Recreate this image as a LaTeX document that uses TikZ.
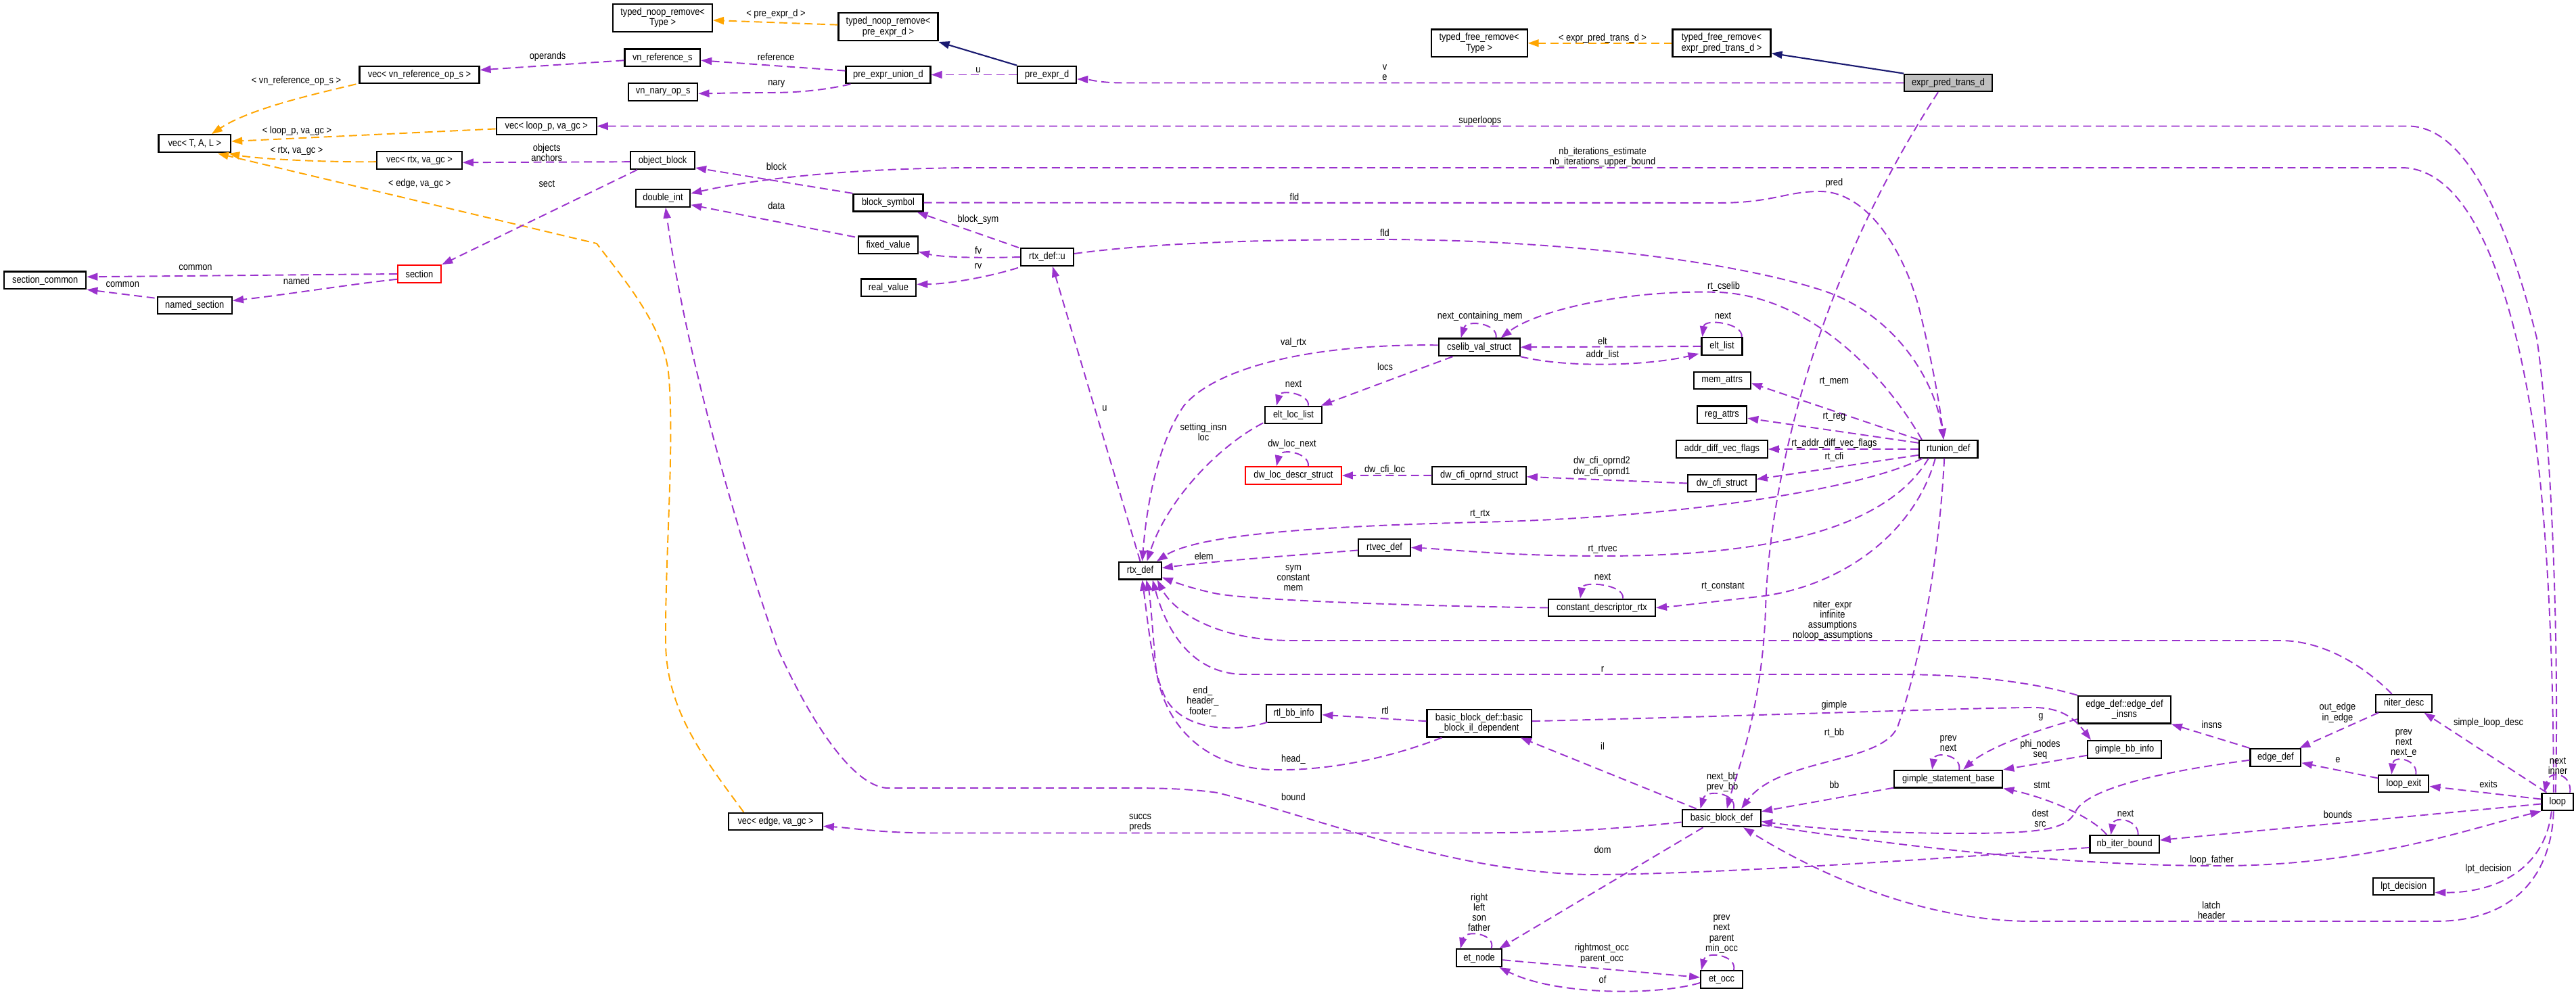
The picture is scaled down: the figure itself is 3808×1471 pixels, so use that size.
\documentclass[tikz,border=0pt]{standalone}
\usepackage{fontspec}
\newfontfamily\dxfont[FakeStretch=0.87]{Liberation Sans}
\usetikzlibrary{arrows.meta,calc}
\definecolor{purp}{HTML}{9A32CD}
\definecolor{orng}{HTML}{FFA500}
\definecolor{mblue}{HTML}{191970}
\definecolor{gfill}{HTML}{BFBFBF}
\tikzset{
 box/.style={draw=black, fill=white, line width=0.6pt, inner sep=0pt, minimum height=0.256cm, align=center, font=\dxfont\fontsize{4.2}{4.4}\selectfont},
 bw/.style={minimum width=#1*0.01cm},
 tall/.style={minimum height=0.406cm},
 lbl/.style={inner sep=0pt, align=center, font=\dxfont\fontsize{4.2}{4.3}\selectfont},
 usesty/.style={draw=purp, line width=0.55pt, dash pattern=on 3.4pt off 1.9pt, -{Triangle[length=0.16cm,width=0.11cm]}},
 tmplsty/.style={usesty, draw=orng},
 inhsty/.style={draw=mblue, line width=0.6pt, -{Triangle[length=0.16cm,width=0.11cm]}},
}
\begin{document}
\begin{tikzpicture}[x=0.01cm,y=-0.01cm]
\useasboundingbox (0,0) rectangle (3808,1471);
% nodes
\node[box,bw=146.6,tall] (tnrT) at (979.6,26.3) {typed\_noop\_remove<\\Type >};
\node[box,bw=147,tall] (tnrP) at (1313,39.7) {typed\_noop\_remove<\\pre\_expr\_d >};
\node[box,bw=142,tall] (tfrT) at (2186.6,63.8) {typed\_free\_remove<\\Type >};
\node[box,bw=145,tall] (tfrE) at (2545,63.8) {typed\_free\_remove<\\expr\_pred\_trans\_d >};
\node[box,bw=129.5,fill=gfill] (ept) at (2880,122.5) {expr\_pred\_trans\_d};
\node[box,bw=177] (vecvn) at (620,110.5) {vec< vn\_reference\_op\_s >};
\node[box,bw=111.6] (vnref) at (979.3,85.3) {vn\_reference\_s};
\node[box,bw=102.4] (vnnary) at (980.2,135.8) {vn\_nary\_op\_s};
\node[box,bw=125] (peu) at (1313,110.5) {pre\_expr\_union\_d};
\node[box,bw=87] (ped) at (1547.7,110.5) {pre\_expr\_d};
\node[box,bw=106.6] (vecTAL) at (287.8,212) {vec< T, A, L >};
\node[box,bw=148] (vecloop) at (807.7,186.5) {vec< loop\_p, va\_gc >};
\node[box,bw=125.5] (vecrtx) at (620,237.2) {vec< rtx, va\_gc >};
\node[box,bw=95] (objblk) at (979.5,237.2) {object\_block};
\node[box,bw=80.4] (dblint) at (980,293) {double\_int};
\node[box,bw=103] (blksym) at (1313,299.7) {block\_symbol};
\node[box,bw=121.3] (secc) at (66.7,414.3) {section\_common};
\node[box,bw=64.3,draw=red] (sect) at (620,405) {section};
\node[box,bw=110.3] (nsect) at (287.8,451.5) {named\_section};
\node[box,bw=88] (fixv) at (1313,362.3) {fixed\_value};
\node[box,bw=78] (rtxu) at (1548,380) {rtx\_def::u};
\node[box,bw=81.5] (realv) at (1313.5,425.3) {real\_value};
\node[box,bw=120] (csv) at (2186.6,513.3) {cselib\_val\_struct};
\node[box,bw=60] (eltl) at (2545.5,512) {elt\_list};
\node[box,bw=83.5] (ell) at (1912,613.5) {elt\_loc\_list};
\node[box,bw=84] (mema) at (2545.7,562.5) {mem\_attrs};
\node[box,bw=73.5] (rega) at (2545.5,613.3) {reg\_attrs};
\node[box,bw=134.7] (adv) at (2545.5,664) {addr\_diff\_vec\_flags};
\node[box,bw=86.5] (rtu) at (2880.2,663.8) {rtunion\_def};
\node[box,bw=141.7,draw=red] (dwl) at (1912,703) {dw\_loc\_descr\_struct};
\node[box,bw=138.4] (dwo) at (2186.6,702.8) {dw\_cfi\_oprnd\_struct};
\node[box,bw=100.4] (dwc) at (2545.4,714.5) {dw\_cfi\_struct};
\node[box,bw=62.5] (rtx) at (1685.5,843.7) {rtx\_def};
\node[box,bw=76.5] (rtvec) at (2046.6,809.5) {rtvec\_def};
\node[box,bw=158] (cdr) at (2368,898.5) {constant\_descriptor\_rtx};
\node[box,bw=83.3] (nd) at (3553.7,1039.8) {niter\_desc};
\node[box,bw=136.8,tall] (edi) at (3140.4,1049.2) {edge\_def::edge\_def\\\_insns};
\node[box,bw=81.7] (rtlbb) at (1912.5,1054.8) {rtl\_bb\_info};
\node[box,bw=154.3,tall] (bbil) at (2186.6,1069.2) {basic\_block\_def::basic\\\_block\_il\_dependent};
\node[box,bw=109.4] (gbb) at (3140.7,1107.8) {gimple\_bb\_info};
\node[box,bw=74.7] (edef) at (3363.8,1119.8) {edge\_def};
\node[box,bw=160] (gsb) at (2880.2,1151.7) {gimple\_statement\_base};
\node[box,bw=74] (lexit) at (3553.4,1158.5) {loop\_exit};
\node[box,bw=46.6] (loop) at (3780.8,1185.5) {loop};
\node[box,bw=138.4] (vecedge) at (1146.6,1214.5) {vec< edge, va\_gc >};
\node[box,bw=116.4] (bbd) at (2544.8,1209.5) {basic\_block\_def};
\node[box,bw=102.3] (nib) at (3140.6,1248) {nb\_iter\_bound};
\node[box,bw=90.3] (lpt) at (3553.2,1310.5) {lpt\_decision};
\node[box,bw=67.4] (etn) at (2186.6,1416.2) {et\_node};
\node[box,bw=61.8] (eto) at (2545,1448) {et\_occ};
% edges
\draw[tmplsty] (tfrE.west) -- (tfrT.east);
\node[lbl] (l1) at (2369,56.7) {< expr\_pred\_trans\_d >};
\draw[inhsty] (ept.north west) -- ($(tfrE.east)+(0,15)$);
\draw[usesty] (ept.west) -- (1660,122.5) .. controls (1625,122.5) and (1610,117.5) .. ($(ped.east)+(0,6.5)$);
\node[lbl] (l2) at (2047,107.5) {v\\e};
\draw[tmplsty] ($(tnrP.west)+(0,-3)$) -- ($(tnrT.east)+(0,3.7)$);
\node[lbl] (l3) at (1147,21) {< pre\_expr\_d >};
\draw[inhsty] (ped.north west) -- ($(tnrP.south east)+(0,1)$);
\draw[usesty] (ped.west) -- (peu.east);
\node[lbl] (l4) at (1446,103.3) {u};
\draw[usesty] ($(peu.north west)+(0,8)$) -- ($(vnref.east)+(0,4)$);
\node[lbl] (l5) at (1147,84) {reference};
\draw[usesty] ($(peu.south west)+(8,0)$) .. controls (1220,133) and (1180,137) .. (1140,137) .. controls (1090,137) and (1060,138) .. ($(vnnary.east)+(0,2.5)$);
\node[lbl] (l6) at (1147.8,124.3) {nary};
\draw[usesty] ($(vnref.west)+(0,4)$) -- ($(vecvn.east)+(0,-7)$);
\node[lbl] (l7) at (809.6,84) {operands};
\draw[tmplsty] ($(vecvn.south west)+(-4,0)$) .. controls (470,138) and (370,160) .. ($(vecTAL.north)+(25,0)$);
\node[lbl] (l8) at (438,120) {< vn\_reference\_op\_s >};
\draw[tmplsty] ($(vecloop.west)+(0,4)$) -- ($(vecTAL.east)+(0,-3)$);
\node[lbl] (l9) at (439,193.3) {< loop\_p, va\_gc >};
\draw[tmplsty] ($(vecrtx.west)+(0,2)$) .. controls (480,240) and (380,235) .. ($(vecTAL.south east)+(-4,1)$);
\node[lbl] (l10) at (438.5,223.3) {< rtx, va\_gc >};
\draw[tmplsty] ($(vecedge.north west)+(23,0)$) .. controls (1040,1120) and (985,1050) .. (984,950) .. controls (983,820) and (998,650) .. (988,550) .. controls (980,480) and (920,410) .. (882,360) -- ($(vecTAL.south)+(34,1)$);
\node[lbl] (l11) at (620.3,271.7) {< edge, va\_gc >};
\draw[usesty] ($(loop.north)+(-3,0)$) .. controls (3783,950) and (3772,650) .. (3750,500) .. controls (3720,380) and (3660,186.5) .. (3560,186.5) -- (vecloop.east);
\node[lbl] (l12) at (2187.8,179) {superloops};
\draw[usesty] ($(loop.north)+(-6,0)$) .. controls (3775,950) and (3762,720) .. (3740,600) .. controls (3715,450) and (3660,248) .. (3550,248) -- (1450,248) .. controls (1250,248) and (1110,266) .. ($(dblint.east)+(0,-7)$);
\node[lbl] (l13) at (2369,232.5) {nb\_iterations\_estimate\\nb\_iterations\_upper\_bound};
\draw[usesty] (blksym.north west) -- ($(objblk.south east)+(0,-3)$);
\node[lbl] (l14) at (1147.8,246.7) {block};
\draw[usesty] (blksym.east) -- (2540,300) .. controls (2620,300) and (2640,283) .. (2690,283) .. controls (2760,283) and (2815,370) .. (2838,460) .. controls (2855,530) and (2868,600) .. ($(rtu.north)+(-7,0)$);
\node[lbl] (l15) at (1913.5,291.7) {fld};
\draw[usesty] ($(fixv.north west)+(-4,2)$) -- ($(dblint.south east)+(0,-4)$);
\node[lbl] (l16) at (1147.8,304.3) {data};
\draw[usesty] ($(rtxu.north west)+(-2,0)$) -- ($(blksym.south east)+(-10,0)$);
\node[lbl] (l17) at (1446,325) {block\_sym};
\draw[usesty] (rtxu.west) .. controls (1440,382) and (1390,380) .. ($(fixv.east)+(0,10)$);
\node[lbl] (l18) at (1446,370) {fv};
\draw[usesty] ($(rtxu.south west)+(-3,2)$) .. controls (1460,410) and (1400,420) .. ($(realv.east)+(0,-5)$);
\node[lbl] (l19) at (1446,393.3) {rv};
\draw[usesty] ($(rtxu.east)+(0,-5)$) .. controls (1700,360) and (1850,354) .. (2050,354) .. controls (2300,355) and (2560,385) .. (2696,430) .. controls (2800,465) and (2860,560) .. ($(rtu.north)+(-7,0)$);
\node[lbl] (l20) at (2047,344) {fld};
\draw[usesty] (rtx.north) -- ($(rtxu.south)+(8,0)$);
\node[lbl] (l21) at (1633,604) {u};
\draw[usesty] ($(rtu.north west)+(5,0)$) .. controls (2790,560) and (2680,438) .. (2540,432) .. controls (2400,428) and (2270,460) .. ($(csv.north)+(32,0)$);
\node[lbl] (l22) at (2548,424) {rt\_cselib};
\draw[usesty] ($(csv.north)+(25,0)$) .. controls (2215,478) and (2168,472) .. ($(csv.north)+(-27,0)$);
\node[lbl] (l23) at (2187.8,467.7) {next\_containing\_mem};
\draw[usesty] ($(eltl.north east)+(-2,0)$) .. controls (2578,478) and (2520,470) .. ($(eltl.north west)+(2,0)$);
\node[lbl] (l24) at (2547,466.7) {next};
\draw[usesty] (eltl.west) -- (csv.east);
\node[lbl] (l25) at (2369,504) {elt};
\draw[usesty] (csv.south east) .. controls (2320,545) and (2440,540) .. ($(eltl.south west)+(-3,-3)$);
\node[lbl] (l26) at (2369,524.3) {addr\_list};
\draw[usesty] ($(csv.south west)+(22,0)$) -- ($(ell.north east)+(-2,0)$);
\node[lbl] (l27) at (2047.6,542.3) {locs};
\draw[usesty] ($(csv.west)+(0,-3)$) .. controls (1950,508) and (1800,540) .. (1750,600) .. controls (1708,660) and (1694,760) .. ($(rtx.north)+(3,0)$);
\node[lbl] (l28) at (1912,507) {val\_rtx};
\draw[usesty] ($(ell.north)+(22,0)$) .. controls (1936,582) and (1893,575) .. ($(ell.north)+(-25,0)$);
\node[lbl] (l29) at (1912,568) {next};
\draw[usesty] ($(ell.south west)+(-2,-2)$) .. controls (1800,660) and (1725,740) .. ($(rtx.north)+(10,0)$);
\node[lbl] (l30) at (1779,639) {setting\_insn\\loc};
\draw[usesty] ($(dwl.north)+(22,0)$) .. controls (1936,669) and (1893,662) .. ($(dwl.north)+(-25,0)$);
\node[lbl] (l31) at (1910,656.7) {dw\_loc\_next};
\draw[usesty] (dwo.west) -- (dwl.east);
\node[lbl] (l32) at (2047,694.3) {dw\_cfi\_loc};
\draw[usesty] (dwc.west) -- ($(dwo.east)+(0,2)$);
\node[lbl] (l33) at (2368,689.7) {dw\_cfi\_oprnd2\\dw\_cfi\_oprnd1};
\draw[usesty] (rtu.north west) -- ($(mema.east)+(0,4)$);
\node[lbl] (l34) at (2711.4,564) {rt\_mem};
\draw[usesty] ($(rtu.west)+(0,-9)$) -- ($(rega.east)+(0,5)$);
\node[lbl] (l35) at (2711.4,616) {rt\_reg};
\draw[usesty] (rtu.west) -- (adv.east);
\node[lbl] (l36) at (2711.4,655.7) {rt\_addr\_diff\_vec\_flags};
\draw[usesty] ($(rtu.west)+(0,9)$) -- ($(dwc.east)+(0,-6)$);
\node[lbl] (l37) at (2711.4,675.7) {rt\_cfi};
\draw[usesty] ($(rtu.south west)+(6,0)$) .. controls (2760,720) and (2500,765) .. (2188,772) .. controls (1950,778) and (1770,790) .. ($(rtx.north east)+(-8,0)$);
\node[lbl] (l38) at (2187.8,760) {rt\_rtx};
\draw[usesty] ($(rtu.south west)+(15,0)$) .. controls (2790,780) and (2620,822) .. (2369,822) .. controls (2230,822) and (2140,812) .. (rtvec.east);
\node[lbl] (l39) at (2369,812.7) {rt\_rtvec};
\draw[usesty] ($(rtvec.west)+(0,4)$) .. controls (1900,822) and (1790,830) .. ($(rtx.east)+(0,-4)$);
\node[lbl] (l40) at (1779.7,822.7) {elem};
\draw[usesty] (cdr.west) .. controls (2100,896) and (1860,888) .. (1800,878) .. controls (1760,870) and (1735,860) .. ($(rtx.east)+(0,10)$);
\node[lbl] (l41) at (1912,854.7) {sym\\constant\\mem};
\draw[usesty] ($(cdr.north)+(31,0)$) .. controls (2402,864) and (2340,858) .. ($(cdr.north)+(-32,0)$);
\node[lbl] (l42) at (2369,852.7) {next};
\draw[usesty] ($(rtu.south west)+(25,0)$) .. controls (2830,790) and (2720,868) .. (2600,882) .. controls (2520,891) and (2480,896) .. (cdr.east);
\node[lbl] (l43) at (2547,867.7) {rt\_constant};
\draw[usesty] ($(nd.north)+(-18,0)$) .. controls (3500,990) and (3440,947) .. (3370,947) -- (1910,947) .. controls (1800,947) and (1735,905) .. ($(rtx.south east)+(-7,0)$);
\node[lbl] (l44) at (2709,917) {niter\_expr\\infinite\\assumptions\\noloop\_assumptions};
\draw[usesty] ($(rtlbb.south west)+(3,-1)$) .. controls (1820,1085) and (1745,1078) .. (1722,1030) .. controls (1703,990) and (1697,920) .. ($(rtx.south)+(3,0)$);
\node[lbl] (l45) at (1778,1037) {end\_\\header\_\\footer\_};
\draw[usesty] ($(bbil.south west)+(23,0)$) .. controls (2050,1122) and (1960,1140) .. (1880,1138) .. controls (1770,1134) and (1715,1060) .. (1708,980) .. controls (1703,920) and (1700,880) .. ($(rtx.south)+(9,0)$);
\node[lbl] (l46) at (1912,1123) {head\_};
\draw[usesty] (edi.north west) .. controls (3010,1010) and (2920,997) .. (2800,997) -- (1840,997) .. controls (1770,997) and (1728,945) .. ($(rtx.south east)+(-14,0)$);
\node[lbl] (l47) at (2369,989.3) {r};
\draw[usesty] ($(bbil.west)+(0,-3)$) -- ($(rtlbb.east)+(0,2)$);
\node[lbl] (l48) at (2047.6,1050.7) {rtl};
\draw[usesty] ($(bbil.east)+(0,-3)$) .. controls (2600,1058) and (2900,1047) .. (3000,1046) .. controls (3045,1045) and (3065,1060) .. ($(gbb.north west)+(6,0)$);
\node[lbl] (l49) at (2711.4,1042.7) {gimple};
\draw[usesty] ($(bbd.north west)+(22,0)$) -- ($(bbil.south east)+(-17,0)$);
\node[lbl] (l50) at (2369,1102.7) {il};
\draw[usesty] ($(bbd.north)+(18,0)$) .. controls (2568,1172) and (2522,1166) .. ($(bbd.north west)+(28,0)$);
\node[lbl] (l51) at (2546,1156) {next\_bb\\prev\_bb};
\draw[usesty] ($(ept.south)+(-15,0)$) .. controls (2680,420) and (2615,720) .. (2610,900) .. controls (2605,1050) and (2565,1150) .. ($(bbd.north)+(8,0)$);
\node[lbl] (l52) at (2711.4,270.7) {pred};
\draw[usesty] ($(rtu.south)+(-6,0)$) .. controls (2868,800) and (2845,960) .. (2805,1075) .. controls (2780,1130) and (2630,1120) .. ($(bbd.north east)+(-30,0)$);
\node[lbl] (l53) at (2711.4,1084) {rt\_bb};
\draw[usesty] ($(gsb.west)+(0,13)$) -- ($(bbd.north east)+(0,4)$);
\node[lbl] (l54) at (2711.4,1160) {bb};
\draw[usesty] ($(bbd.west)+(0,6)$) .. controls (2350,1230) and (2250,1231.5) .. (2150,1231.5) -- (1380,1231.5) .. controls (1300,1231.5) and (1260,1224) .. ($(vecedge.east)+(0,7)$);
\node[lbl] (l55) at (1685.5,1216.5) {succs\\preds};
\draw[usesty] ($(nib.west)+(0,5)$) .. controls (2800,1275) and (2500,1293) .. (2350,1293) .. controls (2150,1290) and (1950,1210) .. (1800,1172) .. controls (1750,1165) and (1700,1165) .. (1650,1165) -- (1310,1165) .. controls (1260,1160) and (1200,1070) .. (1150,960) .. controls (1080,760) and (1010,500) .. ($(dblint.south)+(4,0)$);
\node[lbl] (l56) at (1912,1178.7) {bound};
\draw[usesty] ($(bbd.south west)+(32,0)$) -- ($(etn.north east)+(-5,0)$);
\node[lbl] (l57) at (2369,1256.7) {dom};
\draw[usesty] ($(etn.north)+(18,0)$) .. controls (2212,1380) and (2166,1374) .. ($(etn.north west)+(7,0)$);
\node[lbl] (l58) at (2186.6,1348.6) {right\\left\\son\\father};
\draw[usesty] ($(etn.east)+(0,3)$) -- ($(eto.west)+(0,-3)$);
\node[lbl] (l59) at (2368,1409.7) {rightmost\_occ\\parent\_occ};
\draw[usesty] ($(eto.west)+(0,5)$) .. controls (2450,1472) and (2300,1472) .. ($(etn.south east)+(-5,0)$);
\node[lbl] (l60) at (2369,1448.3) {of};
\draw[usesty] ($(eto.north)+(18,0)$) .. controls (2568,1412) and (2522,1405) .. ($(eto.north west)+(2,0)$);
\node[lbl] (l61) at (2545,1381) {prev\\next\\parent\\min\_occ};
\draw[usesty] ($(gsb.north)+(16,0)$) .. controls (2900,1116) and (2860,1110) .. ($(gsb.north)+(-24,0)$);
\node[lbl] (l62) at (2880,1099) {prev\\next};
\draw[usesty] ($(edi.west)+(0,14)$) .. controls (3000,1082) and (2935,1108) .. ($(gsb.north)+(22,0)$);
\node[lbl] (l63) at (3017,1060) {g};
\draw[usesty] ($(gbb.west)+(0,9)$) -- (gsb.north east);
\node[lbl] (l64) at (3016,1108.5) {phi\_nodes\\seq};
\draw[usesty] ($(nib.north west)+(26,0)$) .. controls (3090,1205) and (3020,1178) .. (gsb.south east);
\node[lbl] (l65) at (3018.4,1161) {stmt};
\draw[usesty] ($(nib.north)+(20,0)$) .. controls (3162,1212) and (3125,1205) .. ($(nib.north west)+(32,0)$);
\node[lbl] (l66) at (3142,1203.3) {next};
\draw[usesty] (edef.north west) -- (edi.south east);
\node[lbl] (l67) at (3269.5,1071.7) {insns};
\draw[usesty] ($(edef.west)+(0,4)$) .. controls (3200,1140) and (3085,1165) .. (3068,1200) .. controls (3055,1226) and (3020,1232) .. (2900,1232) .. controls (2750,1232) and (2660,1222) .. ($(bbd.east)+(0,5)$);
\node[lbl] (l68) at (3016,1210) {dest\\src};
\draw[usesty] ($(bbd.east)+(0,10)$) .. controls (2800,1250) and (3050,1280) .. (3280,1280) .. controls (3500,1280) and (3650,1225) .. (loop.south west);
\node[lbl] (l69) at (3269.5,1271.7) {loop\_father};
\draw[usesty] ($(loop.south)+(-6,0)$) .. controls (3772,1290) and (3720,1362) .. (3600,1362) -- (3000,1362) .. controls (2850,1361) and (2700,1300) .. ($(bbd.south east)+(-27,0)$);
\node[lbl] (l70) at (3269,1345.3) {latch\\header};
\draw[usesty] ($(loop.west)+(0,3)$) -- ($(nib.east)+(0,-6)$);
\node[lbl] (l71) at (3456,1204.3) {bounds};
\draw[usesty] ($(loop.west)+(0,-4)$) -- ($(lexit.east)+(0,4)$);
\node[lbl] (l72) at (3678.5,1159) {exits};
\draw[usesty] ($(lexit.north)+(18,0)$) .. controls (3574,1122) and (3538,1116) .. ($(lexit.north)+(-18,0)$);
\node[lbl] (l73) at (3553.3,1098.7) {prev\\next\\next\_e};
\draw[usesty] ($(lexit.west)+(0,-8)$) -- ($(edef.east)+(0,8)$);
\node[lbl] (l74) at (3456,1124) {e};
\draw[usesty] ($(nd.south west)+(5,0)$) -- ($(edef.north east)+(-3,0)$);
\node[lbl] (l75) at (3455.5,1053.7) {out\_edge\\in\_edge};
\draw[usesty] ($(loop.north west)+(8,0)$) -- ($(nd.south east)+(-13,0)$);
\node[lbl] (l76) at (3678.5,1069) {simple\_loop\_desc};
\draw[usesty] ($(loop.north east)+(-6,0)$) .. controls (3802,1142) and (3768,1138) .. ($(loop.north west)+(5,0)$);
\node[lbl] (l77) at (3781,1132.5) {next\\inner};
\draw[usesty] ($(loop.south)+(-9,0)$) .. controls (3762,1285) and (3690,1320) .. ($(lpt.east)+(0,9)$);
\node[lbl] (l78) at (3678.5,1284.3) {lpt\_decision};
\draw[usesty] ($(objblk.west)+(0,2)$) -- ($(vecrtx.east)+(0,3)$);
\node[lbl] (l79) at (808.3,225.7) {objects\\anchors};
\draw[usesty] ($(objblk.south west)+(11,0)$) -- (sect.north east);
\node[lbl] (l80) at (808.3,271.7) {sect};
\draw[usesty] (sect.west) -- ($(secc.east)+(0,-5)$);
\node[lbl] (l81) at (289,396) {common};
\draw[usesty] ($(sect.south west)+(0,-6)$) .. controls (520,420) and (420,436) .. ($(nsect.east)+(0,-7)$);
\node[lbl] (l82) at (438.5,415.7) {named};
\draw[usesty] ($(nsect.north west)+(-3,3)$) -- (secc.south east);
\node[lbl] (l83) at (181.3,421) {common};
\end{tikzpicture}
\end{document}
